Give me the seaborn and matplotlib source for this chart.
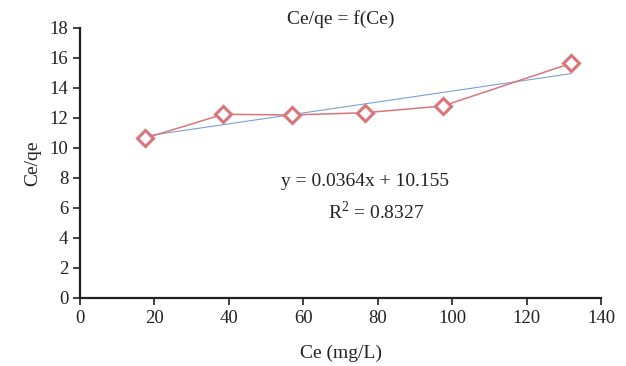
import matplotlib
matplotlib.use("Agg")
import matplotlib.pyplot as plt
import numpy as np
import pandas as pd
import seaborn as sns

# data
ce = [17.5, 38.5, 57.0, 76.5, 97.5, 132.0]
ce_qe = [10.65, 12.25, 12.2, 12.35, 12.8, 15.65]
slope = 0.0364
intercept = 10.155
r2 = 0.8327

sns.set_theme(style="ticks")
plt.rcParams["font.family"] = ["Liberation Serif", "DejaVu Serif"]

df = pd.DataFrame({"Ce": ce, "Ce/qe": ce_qe})
x_fit = np.array([min(ce), max(ce)])
fit = pd.DataFrame({"Ce": x_fit, "Ce/qe": slope * x_fit + intercept})

fig = plt.figure(figsize=(6.26, 3.66), dpi=100)
ax = fig.add_axes([80 / 626, 68 / 366, 521 / 626, 270 / 366])

sns.lineplot(data=fit, x="Ce", y="Ce/qe", ax=ax, color="#7a9fd8", lw=0.8)
sns.lineplot(data=df, x="Ce", y="Ce/qe", ax=ax, color="#dc7479", lw=1.1,
             marker="D", markersize=8.5, markerfacecolor="white",
             markeredgecolor="#d9747a", markeredgewidth=2.2)

ax.set_xlim(0, 140)
ax.set_ylim(0, 18)
ax.set_xticks(range(0, 141, 20))
ax.set_yticks(range(0, 19, 2))
ax.tick_params(labelsize=13.5, length=5, width=1.2, color="#222222", labelcolor="#222222")
for s in ["left", "bottom"]:
    ax.spines[s].set_linewidth(1.6)
    ax.spines[s].set_color("#222222")
sns.despine(ax=ax)

ax.set_title("Ce/qe = f(Ce)", fontsize=14, color="#222222", pad=3)
ax.set_xlabel("Ce (mg/L)", fontsize=14, color="#222222", labelpad=13)
ax.set_ylabel("Ce/qe", fontsize=14, color="#222222", labelpad=6)

ax.text(76.6, 7.75, f"y = {slope}x + {intercept}", fontsize=14,
        ha="center", va="center", color="#222222")
ax.text(79.5, 5.75, f"R$^{{\\mathregular{{2}}}}$ = {r2}", fontsize=14,
        ha="center", va="center", color="#222222")

fig.savefig("out.png", dpi=100)
